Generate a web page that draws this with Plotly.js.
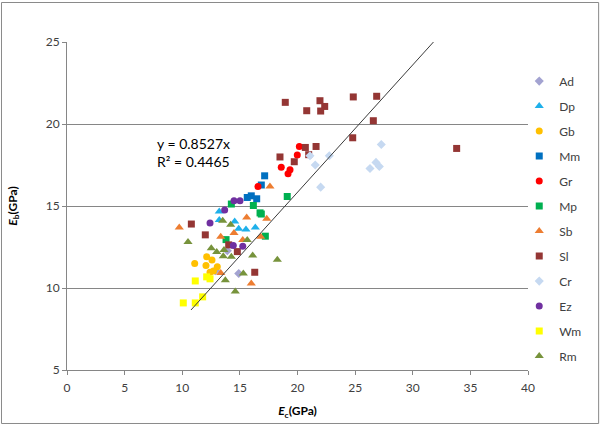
<!DOCTYPE html>
<html>
<head>
<meta charset="utf-8">
<script src="https://cdn.plot.ly/plotly-3.0.1.min.js"></script>
<style>html,body{margin:0;padding:0;background:#fff;}#chart{width:601px;height:426px;}</style>
</head>
<body>
<div id="chart"></div>
<script>
// Series data (Ec, Eb in GPa)
const adX = [13.91, 12.87, 14.90];
const adY = [12.27, 11.06, 10.88];
const dpX = [13.21, 13.21, 14.55, 14.90, 15.53, 16.34];
const dpY = [14.66, 14.14, 14.05, 13.61, 13.57, 13.69];
const gbX = [11.08, 12.12, 12.58, 12.06, 13.04, 12.41, 12.71];
const gbY = [11.49, 11.90, 11.70, 11.37, 11.29, 10.96, 11.04];
const mmX = [17.15, 16.86, 15.64, 15.99, 16.46];
const mmY = [16.84, 16.28, 15.52, 15.62, 15.44];
const grX = [20.16, 19.98, 18.59, 19.35, 19.18, 16.57];
const grY = [18.63, 18.11, 17.37, 17.21, 16.97, 16.19];
const mpX = [19.11, 14.26, 16.17, 16.75, 16.86, 17.21, 13.80];
const mpY = [15.58, 15.12, 15.03, 14.58, 14.51, 13.16, 12.95];
const sbX = [17.61, 15.59, 17.33, 9.74, 14.49, 13.34, 16.81, 15.25, 13.34, 15.99];
const sbY = [16.19, 14.30, 14.22, 13.69, 13.36, 13.12, 13.12, 12.92, 10.92, 10.27];
const slX = [18.94, 20.80, 21.95, 22.36, 22.01, 24.84, 26.87, 26.58, 24.79, 33.81, 20.68, 21.61, 20.97, 18.48, 19.72, 10.79, 12.00, 14.03, 14.78, 16.29];
const slY = [21.32, 20.81, 21.42, 21.07, 20.79, 21.65, 21.69, 20.20, 19.16, 18.51, 18.57, 18.63, 18.13, 17.99, 17.70, 13.90, 13.24, 12.63, 12.22, 10.96];
const crX = [27.27, 21.08, 22.76, 21.54, 26.81, 27.10, 26.29, 22.01];
const crY = [18.75, 18.06, 18.06, 17.50, 17.66, 17.41, 17.29, 16.15];
const ezX = [14.49, 15.01, 13.68, 12.41, 14.43, 15.25];
const ezY = [15.32, 15.32, 14.75, 13.97, 12.59, 12.55];
const wmX = [11.13, 12.12, 12.41, 11.77, 11.13, 10.09];
const wmY = [10.43, 10.68, 10.56, 9.46, 9.09, 9.09];
const rmX = [10.50, 12.52, 12.99, 13.51, 14.20, 13.62, 13.56, 14.26, 15.64, 16.11, 18.25, 15.30, 13.74, 14.60];
const rmY = [12.80, 12.43, 12.19, 14.10, 13.85, 12.31, 11.94, 11.90, 12.92, 11.98, 11.73, 10.88, 10.48, 9.78];
// trend line as drawn in the picture
const trendX = [10.76, 32.3];
const trendY = [8.66, 25.39];

const names = ['Ad','Dp','Gb','Mm','Gr','Mp','Sb','Sl','Cr','Ez','Wm','Rm'];
const xs = [adX, dpX, gbX, mmX, grX, mpX, sbX, slX, crX, ezX, wmX, rmX];
const ys = [adY, dpY, gbY, mmY, grY, mpY, sbY, slY, crY, ezY, wmY, rmY];
const colors = ['#a3a3d1','#1fb0ea','#ffc000','#0070c0','#ff0000','#00b050','#ed7d31','#943634','#c6d9f1','#7030a0','#ffff00','#77933c'];
const symbols = ['diamond','triangle-up','circle','square','circle','square','triangle-up','square','diamond','circle','square','triangle-up'];
const sizes = [7, 8, 7, 7, 7, 7, 8, 7, 7, 7, 7, 8];

const traces = [];
for (let i = 0; i < names.length; i++) {
  traces.push({
    type: 'scatter', mode: 'markers', name: names[i], legendgroup: names[i],
    x: xs[i], y: ys[i],
    marker: {color: colors[i], symbol: symbols[i], size: sizes[i], line: {width: 0}}
  });
}
traces.push({
  type: 'scatter', mode: 'lines', x: trendX, y: trendY, showlegend: false,
  line: {color: '#3a3a3a', width: 1}, hoverinfo: 'skip'
});

const font = 'Lato, "Open Sans", sans-serif';
const layout = {
  width: 601, height: 426,
  margin: {l: 67, r: 73, t: 42, b: 56, autoexpand: false},
  paper_bgcolor: '#ffffff', plot_bgcolor: '#ffffff',
  font: {family: font, size: 12, color: '#404040'},
  showlegend: true,
  legend: {x: 0.981, xanchor: 'left', y: 0.925, yanchor: 'top', tracegroupgap: 6,
           bgcolor: 'rgba(0,0,0,0)', font: {family: font, size: 12, color: '#404040'}},
  xaxis: {range: [0, 40], dtick: 5, tick0: 0, showgrid: false, zeroline: false,
          showline: true, linecolor: '#868686', linewidth: 1,
          ticks: 'outside', ticklen: 4, tickcolor: '#868686', ticklabelstandoff: 3,
          tickfont: {family: font, size: 12, color: '#404040'},
          title: {text: '<b><i>E</i><sub>c</sub>(GPa)</b>', font: {family: font, size: 12, color: '#000'}, standoff: 12}},
  yaxis: {range: [5, 25], dtick: 5, tick0: 5, showgrid: true, gridcolor: '#868686', gridwidth: 1, zeroline: false,
          showline: true, linecolor: '#868686', linewidth: 1,
          ticks: 'outside', ticklen: 4, tickcolor: '#868686',
          tickfont: {family: font, size: 12, color: '#404040'},
          title: {text: '<b><i>E</i><sub>b</sub>(GPa)</b>', font: {family: font, size: 12, color: '#000'}, standoff: 25}},
  annotations: [{
    xref: 'x', yref: 'y', x: 7.6, y: 18.27, xanchor: 'left', yanchor: 'middle', align: 'left',
    text: 'y = 0.8527x<br>R² = 0.4465', showarrow: false,
    font: {family: font, size: 14, color: '#000'}
  }],
  shapes: [{
    type: 'rect', xref: 'paper', yref: 'paper',
    x0: -0.1421, x1: 1.1532, y0: -0.1631, y1: 1.1204,
    line: {color: '#8a8a8a', width: 1}, fillcolor: 'rgba(0,0,0,0)', layer: 'below'
  }]
};
Plotly.newPlot('chart', traces, layout, {staticPlot: true, displayModeBar: false});
</script>
</body>
</html>
